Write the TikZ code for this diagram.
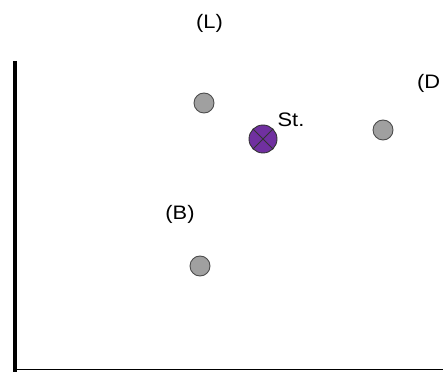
\documentclass[tikz,border=0pt]{standalone}
\usepackage{fontspec}
\setmainfont{Liberation Sans}[FakeStretch=1.12]
\definecolor{stpurple}{HTML}{7030A0}
\definecolor{ballgray}{HTML}{A0A0A0}
\begin{document}
\begin{tikzpicture}[x=1pt,y=1pt,
  ball/.style={circle,draw=black!70,fill=ballgray,line width=0.9pt,minimum size=20pt,inner sep=0pt},
  lbl/.style={font=\fontsize{19.5}{22}\selectfont,inner sep=0pt}]
\useasboundingbox (0,0) rectangle (443,372);
% axes
\coordinate (top) at (15,311);
\coordinate (right) at (443,2.5);
\draw[line width=4pt] (top) -- (15,0.5);
\draw[line width=1.5pt] (15,2.5) -- (right);
% balls
\node[ball] (b1) at (204,269) {};
\node[ball] (b2) at (383,242) {};
\node[ball] (b3) at (200,106) {};
% star
\node[circle,draw=black!80,fill=stpurple,line width=0.9pt,minimum size=28pt,inner sep=0pt] (st) at (263,233) {};
\draw[black!80,line width=0.8pt] (st.north west) -- (st.south east) (st.north east) -- (st.south west);
% labels
\node[lbl] (stl) at (291,252) {St.};
\node[lbl] (L) at (209.5,349) {(L)};
\node[lbl,anchor=west] (D) at (417,289) {(D};
\node[lbl] (B) at (180,158) {(B)};
\end{tikzpicture}
\end{document}
